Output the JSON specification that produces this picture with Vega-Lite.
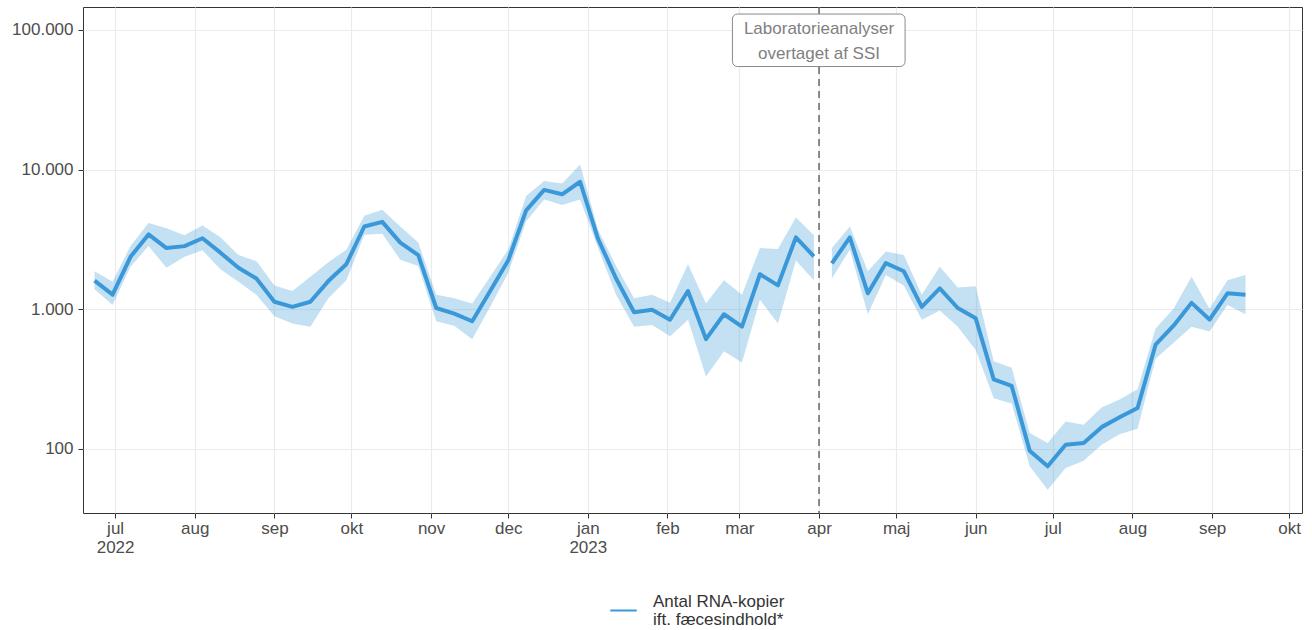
{
  "$schema": "https://vega.github.io/schema/vega-lite/v6.json",
  "autosize": {"type": "none"},
  "padding": {"left": 83, "top": 7, "right": 10, "bottom": 117},
  "width": 1219,
  "height": 506,
  "background": "white",
  "config": {
    "font": "Liberation Sans",
    "view": {"stroke": "#333333", "strokeWidth": 1},
    "axis": {
      "domain": false,
      "gridColor": "#ebebeb",
      "gridWidth": 1.2,
      "tickColor": "#333333",
      "tickSize": 5,
      "labelColor": "#4d4d4d",
      "labelFontSize": 17,
      "title": null
    }
  },
  "datasets": {
    "ww": [
      {"date": "2022-06-23", "value": 1600, "lo": 1390, "hi": 1870, "period": "a"},
      {"date": "2022-06-30", "value": 1270, "lo": 1070, "hi": 1570, "period": "a"},
      {"date": "2022-07-07", "value": 2370, "lo": 2010, "hi": 2830, "period": "a"},
      {"date": "2022-07-14", "value": 3430, "lo": 2830, "hi": 4150, "period": "a"},
      {"date": "2022-07-21", "value": 2740, "lo": 1980, "hi": 3800, "period": "a"},
      {"date": "2022-07-28", "value": 2830, "lo": 2370, "hi": 3380, "period": "a"},
      {"date": "2022-08-04", "value": 3220, "lo": 2640, "hi": 3980, "period": "a"},
      {"date": "2022-08-11", "value": 2540, "lo": 1930, "hi": 3270, "period": "a"},
      {"date": "2022-08-18", "value": 1980, "lo": 1570, "hi": 2440, "period": "a"},
      {"date": "2022-08-25", "value": 1660, "lo": 1270, "hi": 2210, "period": "a"},
      {"date": "2022-09-01", "value": 1130, "lo": 890, "hi": 1480, "period": "a"},
      {"date": "2022-09-08", "value": 1040, "lo": 790, "hi": 1350, "period": "a"},
      {"date": "2022-09-15", "value": 1130, "lo": 750, "hi": 1710, "period": "a"},
      {"date": "2022-09-22", "value": 1590, "lo": 1200, "hi": 2170, "period": "a"},
      {"date": "2022-09-29", "value": 2100, "lo": 1610, "hi": 2670, "period": "a"},
      {"date": "2022-10-06", "value": 3910, "lo": 3410, "hi": 4670, "period": "a"},
      {"date": "2022-10-13", "value": 4220, "lo": 3470, "hi": 5160, "period": "a"},
      {"date": "2022-10-20", "value": 3000, "lo": 2260, "hi": 3910, "period": "a"},
      {"date": "2022-10-27", "value": 2440, "lo": 2040, "hi": 3000, "period": "a"},
      {"date": "2022-11-03", "value": 1020, "lo": 820, "hi": 1270, "period": "a"},
      {"date": "2022-11-10", "value": 930, "lo": 760, "hi": 1200, "period": "a"},
      {"date": "2022-11-17", "value": 820, "lo": 610, "hi": 1100, "period": "a"},
      {"date": "2022-11-24", "value": 1350, "lo": 1040, "hi": 1710, "period": "a"},
      {"date": "2022-12-01", "value": 2230, "lo": 1820, "hi": 2670, "period": "a"},
      {"date": "2022-12-08", "value": 5100, "lo": 4270, "hi": 6460, "period": "a"},
      {"date": "2022-12-15", "value": 7150, "lo": 6100, "hi": 8280, "period": "a"},
      {"date": "2022-12-22", "value": 6650, "lo": 5570, "hi": 7940, "period": "a"},
      {"date": "2022-12-29", "value": 8180, "lo": 6100, "hi": 10860, "period": "a"},
      {"date": "2023-01-05", "value": 3180, "lo": 2740, "hi": 3690, "period": "a"},
      {"date": "2023-01-12", "value": 1660, "lo": 1270, "hi": 2040, "period": "a"},
      {"date": "2023-01-19", "value": 950, "lo": 750, "hi": 1200, "period": "a"},
      {"date": "2023-01-26", "value": 990, "lo": 770, "hi": 1270, "period": "a"},
      {"date": "2023-02-02", "value": 840, "lo": 640, "hi": 1110, "period": "a"},
      {"date": "2023-02-09", "value": 1350, "lo": 840, "hi": 2100, "period": "a"},
      {"date": "2023-02-16", "value": 610, "lo": 330, "hi": 1100, "period": "a"},
      {"date": "2023-02-23", "value": 920, "lo": 500, "hi": 1610, "period": "a"},
      {"date": "2023-03-02", "value": 750, "lo": 415, "hi": 1270, "period": "a"},
      {"date": "2023-03-09", "value": 1780, "lo": 1170, "hi": 2740, "period": "a"},
      {"date": "2023-03-16", "value": 1480, "lo": 790, "hi": 2700, "period": "a"},
      {"date": "2023-03-23", "value": 3270, "lo": 2230, "hi": 4530, "period": "a"},
      {"date": "2023-03-30", "value": 2390, "lo": 1610, "hi": 3380, "period": "a"},
      {"date": "2023-04-06", "value": 2130, "lo": 1660, "hi": 2740, "period": "b"},
      {"date": "2023-04-13", "value": 3270, "lo": 2670, "hi": 3910, "period": "b"},
      {"date": "2023-04-20", "value": 1300, "lo": 920, "hi": 1870, "period": "b"},
      {"date": "2023-04-27", "value": 2140, "lo": 1760, "hi": 2590, "period": "b"},
      {"date": "2023-05-04", "value": 1870, "lo": 1480, "hi": 2440, "period": "b"},
      {"date": "2023-05-11", "value": 1040, "lo": 840, "hi": 1270, "period": "b"},
      {"date": "2023-05-18", "value": 1410, "lo": 980, "hi": 2010, "period": "b"},
      {"date": "2023-05-25", "value": 1020, "lo": 750, "hi": 1430, "period": "b"},
      {"date": "2023-06-01", "value": 860, "lo": 510, "hi": 1460, "period": "b"},
      {"date": "2023-06-08", "value": 314, "lo": 230, "hi": 423, "period": "b"},
      {"date": "2023-06-15", "value": 282, "lo": 211, "hi": 380, "period": "b"},
      {"date": "2023-06-22", "value": 97, "lo": 75, "hi": 130, "period": "b"},
      {"date": "2023-06-29", "value": 75, "lo": 51, "hi": 110, "period": "b"},
      {"date": "2023-07-06", "value": 107, "lo": 73, "hi": 157, "period": "b"},
      {"date": "2023-07-13", "value": 110, "lo": 82, "hi": 149, "period": "b"},
      {"date": "2023-07-20", "value": 143, "lo": 107, "hi": 198, "period": "b"},
      {"date": "2023-07-27", "value": 168, "lo": 127, "hi": 226, "period": "b"},
      {"date": "2023-08-03", "value": 196, "lo": 139, "hi": 267, "period": "b"},
      {"date": "2023-08-10", "value": 557, "lo": 441, "hi": 728, "period": "b"},
      {"date": "2023-08-17", "value": 762, "lo": 574, "hi": 1006, "period": "b"},
      {"date": "2023-08-24", "value": 1110, "lo": 750, "hi": 1710, "period": "b"},
      {"date": "2023-08-31", "value": 843, "lo": 693, "hi": 1006, "period": "b"},
      {"date": "2023-09-07", "value": 1300, "lo": 1070, "hi": 1610, "period": "b"},
      {"date": "2023-09-14", "value": 1270, "lo": 920, "hi": 1760, "period": "b"}
    ],
    "note": [
      {"date": "2023-04-01", "x1": "2023-02-26T07:00:00Z", "x2": "2023-05-04T12:00:00Z", "ytop": 130000, "ybot": 54700, "ymid": 82400, "label": "Laboratorieanalyser\novertaget af SSI"}
    ]
  },
  "encoding": {
    "x": {
      "field": "date",
      "type": "temporal",
      "scale": {
        "type": "utc",
        "domain": [
          {"year": 2022, "month": 6, "date": 18, "hours": 12, "utc": true},
          {"year": 2023, "month": 10, "date": 6, "hours": 0, "utc": true}
        ]
      },
      "axis": {
        "tickCount": {"interval": "month", "step": 1},
        "labelPadding": 2,
        "labelLineHeight": 19,
        "labelBaseline": "top",
        "labelExpr": "(utcmonth(datum.value) == 0 || (utcyear(datum.value) == 2022 && utcmonth(datum.value) == 6)) ? [['jan','feb','mar','apr','maj','jun','jul','aug','sep','okt','nov','dec'][utcmonth(datum.value)], '' + utcyear(datum.value)] : ['jan','feb','mar','apr','maj','jun','jul','aug','sep','okt','nov','dec'][utcmonth(datum.value)]"
      }
    }
  },
  "layer": [
    {
      "data": {"name": "ww"},
      "mark": {"type": "area", "color": "#3a98d8", "opacity": 0.3},
      "encoding": {
        "y": {
          "field": "lo",
          "type": "quantitative",
          "scale": {"type": "log", "domain": [34.7, 146000], "nice": false, "zero": false},
          "axis": {
            "values": [100, 1000, 10000, 100000],
            "labelPadding": 5,
            "labelExpr": "replace(format(datum.value, ','), regexp(',', 'g'), '.')"
          }
        },
        "y2": {"field": "hi"},
        "detail": {"field": "period"}
      }
    },
    {
      "data": {"name": "ww"},
      "mark": {"type": "line", "strokeWidth": 4, "strokeJoin": "round", "strokeCap": "butt"},
      "encoding": {
        "y": {"field": "value", "type": "quantitative"},
        "detail": {"field": "period"},
        "color": {
          "datum": "Antal RNA-kopier",
          "type": "nominal",
          "scale": {"domain": ["Antal RNA-kopier"], "range": ["#3a98d8"]},
          "legend": {
            "title": null,
            "orient": "none",
            "legendX": 526,
            "legendY": 589,
            "padding": 0,
            "symbolType": "stroke",
            "symbolSize": 700,
            "symbolStrokeWidth": 2,
            "labelFontSize": 17,
            "labelColor": "#333333",
            "labelOffset": 15,
            "labelExpr": "['Antal RNA-kopier', 'ift. fæcesindhold*']",
            "encode": {"labels": {"update": {"lineHeight": {"value": 18}, "dy": {"value": -9}}}}
          }
        }
      }
    },
    {
      "data": {"name": "note"},
      "mark": {"type": "rule", "color": "#666666", "strokeWidth": 1.5, "strokeDash": [7, 5]},
      "encoding": {"x": {"field": "date", "type": "temporal"}}
    },
    {
      "data": {"name": "note"},
      "mark": {"type": "rect", "fill": "white", "stroke": "#8a8a8a", "strokeWidth": 1, "cornerRadius": 5},
      "encoding": {
        "x": {"field": "x1", "type": "temporal"},
        "x2": {"field": "x2"},
        "y": {"field": "ytop", "type": "quantitative"},
        "y2": {"field": "ybot"}
      }
    },
    {
      "data": {"name": "note"},
      "mark": {"type": "text", "lineBreak": "\n", "lineHeight": 25, "fontSize": 17, "color": "#808080", "align": "center", "baseline": "middle", "dy": -12.5},
      "encoding": {
        "x": {"field": "date", "type": "temporal"},
        "y": {"field": "ymid", "type": "quantitative"},
        "text": {"field": "label"}
      }
    }
  ]
}
